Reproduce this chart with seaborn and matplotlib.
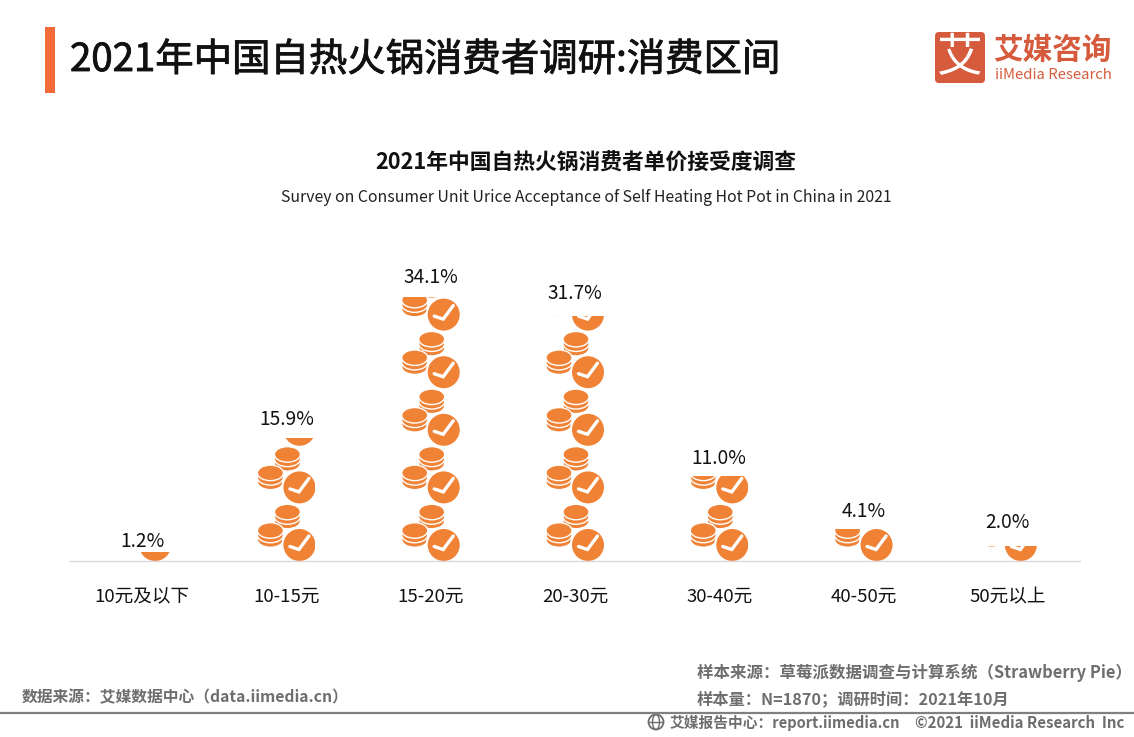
import math
import matplotlib
matplotlib.use('Agg')
import matplotlib.pyplot as plt
import matplotlib.patheffects as pe
from matplotlib.patches import Circle, Ellipse, FancyBboxPatch, Rectangle
from matplotlib.lines import Line2D
from matplotlib.transforms import Affine2D
import pandas as pd
import seaborn as sns

categories = ['10元及以下', '10-15元', '15-20元', '20-30元', '30-40元', '40-50元', '50元以上']
shares = [1.2, 15.9, 34.1, 31.7, 11.0, 4.1, 2.0]
share_labels = ['1.2%', '15.9%', '34.1%', '31.7%', '11.0%', '4.1%', '2.0%']

W, H = 1134, 737
ORANGE = '#F08236'
LOGO = '#D55B3C'
GREY = '#6E6E6E'

sns.set_theme(style='white')
plt.rcParams['font.family'] = ['Noto Sans CJK SC', 'DejaVu Sans']

fig = plt.figure(figsize=(W / 100, H / 100), dpi=100)


def px_x(x):
    return x / W


def px_y(y):
    return 1 - y / H


# axes placed so the baseline sits at y=561
ax = fig.add_axes([px_x(70), px_y(561), 1010 / W, 301 / H])
df = pd.DataFrame({'cat': categories, 'share': shares})
sns.barplot(data=df, x='cat', y='share', color='white', width=0.402, saturation=1, ax=ax)
ax.set_ylim(0, 38.9)
ax.set_xlim(-0.5, 6.5)
ax.set_xlabel('')
ax.set_ylabel('')
ax.set_yticks([])
ax.tick_params(axis='x', length=0, pad=19.5, labelsize=13.4, labelcolor='#111111')
for side in ['top', 'left', 'right']:
    ax.spines[side].set_visible(False)
ax.spines['bottom'].set_color('#D9D9D9')
ax.spines['bottom'].set_linewidth(1.0)
fig.canvas.draw()


def draw_coins(trans, clip, cx, cy):
    # three coins, bottom one first
    for dy in (-9, -4.5, 0):
        e = Ellipse((cx, cy + dy), 26, 15.5, fc=ORANGE, ec='white', lw=1.0,
                    transform=trans, clip_on=True)
        ax.add_artist(e)
        e.set_clip_path(clip)


def draw_tile(trans, clip):
    # one icon: two coin stacks and a check badge, units are pixels from the tile corner
    draw_coins(trans, clip, 30, 49)
    draw_coins(trans, clip, 13, 30.5)
    artists = [
        Circle((42, 16), 18, fc='white', ec='none', transform=trans),
        Circle((42, 16), 16, fc=ORANGE, ec='none', transform=trans),
        Line2D([32.5, 41.5, 51.5], [14.5, 11.5, 25], color='white', lw=2.4,
               transform=trans, solid_joinstyle='miter'),
    ]
    for a in artists:
        ax.add_artist(a)
        a.set_clip_path(clip)


bars = list(ax.patches)
tile_h = 57.6
for bar in bars:
    x0, y0 = ax.transData.transform((bar.get_x(), 0))
    _, y1 = ax.transData.transform((bar.get_x(), bar.get_height()))
    for k in range(math.ceil((y1 - y0) / tile_h)):
        trans = Affine2D().translate(x0, y0 + k * tile_h)
        draw_tile(trans, bar)

label_offsets = [-0.3, 6, 6.3, 8.6, 4.8, 5.3, 9.3]
for bar, txt, off in zip(bars, share_labels, label_offsets):
    ax.annotate(txt, (bar.get_x() + bar.get_width() / 2, bar.get_height()),
                xytext=(0, off), textcoords='offset points', ha='center', va='bottom',
                fontsize=13.8, color='#111111', annotation_clip=False)

# header
fig.add_artist(Rectangle((px_x(45), px_y(93)), 10 / W, 66 / H, fc='#F26B38', ec='none',
                         transform=fig.transFigure))
title = fig.text(px_x(70), px_y(60), '2021年中国自热火锅消费者调研:消费区间', fontsize=27.65,
                 color='#111111', va='center', ha='left')
title.set_path_effects([pe.withStroke(linewidth=0.6, foreground='#111111')])

# logo
fig.add_artist(FancyBboxPatch((935 + 4, 32 + 4), 50 - 8, 51 - 8, boxstyle='round,pad=4',
                              fc=LOGO, ec='none',
                              transform=Affine2D().scale(1, -1).translate(0, H)))
fig.text(px_x(960), px_y(58), '艾', fontsize=33, color='white', ha='center', va='center')
fig.text(px_x(993), px_y(50), '艾媒咨询', fontsize=21.3, fontweight='bold', color=LOGO, ha='left', va='center')
fig.text(px_x(995), px_y(75), 'iiMedia Research', fontsize=10.7, color=LOGO, ha='left', va='center')

# chart titles
fig.text(px_x(586), px_y(163), '2021年中国自热火锅消费者单价接受度调查', fontsize=15.7, fontweight='bold',
         color='#111111', ha='center', va='center')
fig.text(px_x(586), px_y(197), 'Survey on Consumer Unit Urice Acceptance of Self Heating Hot Pot in China in 2021',
         fontsize=11.4, color='#222222', ha='center', va='center')

# footer
fig.text(px_x(22), px_y(697), '数据来源：艾媒数据中心（data.iimedia.cn）', fontsize=11.35, fontweight='bold',
         color=GREY, ha='left', va='center')
fig.text(px_x(697), px_y(673), '样本来源：草莓派数据调查与计算系统（Strawberry Pie）', fontsize=11.85, fontweight='bold',
         color=GREY, ha='left', va='center')
fig.text(px_x(697), px_y(699), '样本量：N=1870；调研时间：2021年10月', fontsize=11.7, fontweight='bold',
         color=GREY, ha='left', va='center')
fig.add_artist(Line2D([0, 1], [px_y(712.5), px_y(712.5)], color='#808080', lw=1.6, transform=fig.transFigure))
# small globe in front of the site name
fig.add_artist(Circle((656, H - 722), 7.5, fc='none', ec=GREY, lw=1.3, transform=Affine2D()))
fig.add_artist(Ellipse((656, H - 722), 7, 15, fc='none', ec=GREY, lw=1.0, transform=Affine2D()))
fig.add_artist(Line2D([649, 663], [H - 722, H - 722], color=GREY, lw=1.0, transform=Affine2D()))
fig.text(px_x(670), px_y(723), '艾媒报告中心：report.iimedia.cn', fontsize=10.6, fontweight='bold',
         color=GREY, ha='left', va='center')
fig.text(px_x(915), px_y(723), '©2021  iiMedia Research  Inc', fontsize=10.8, fontweight='bold',
         color=GREY, ha='left', va='center')

fig.savefig('out.png', dpi=100)
